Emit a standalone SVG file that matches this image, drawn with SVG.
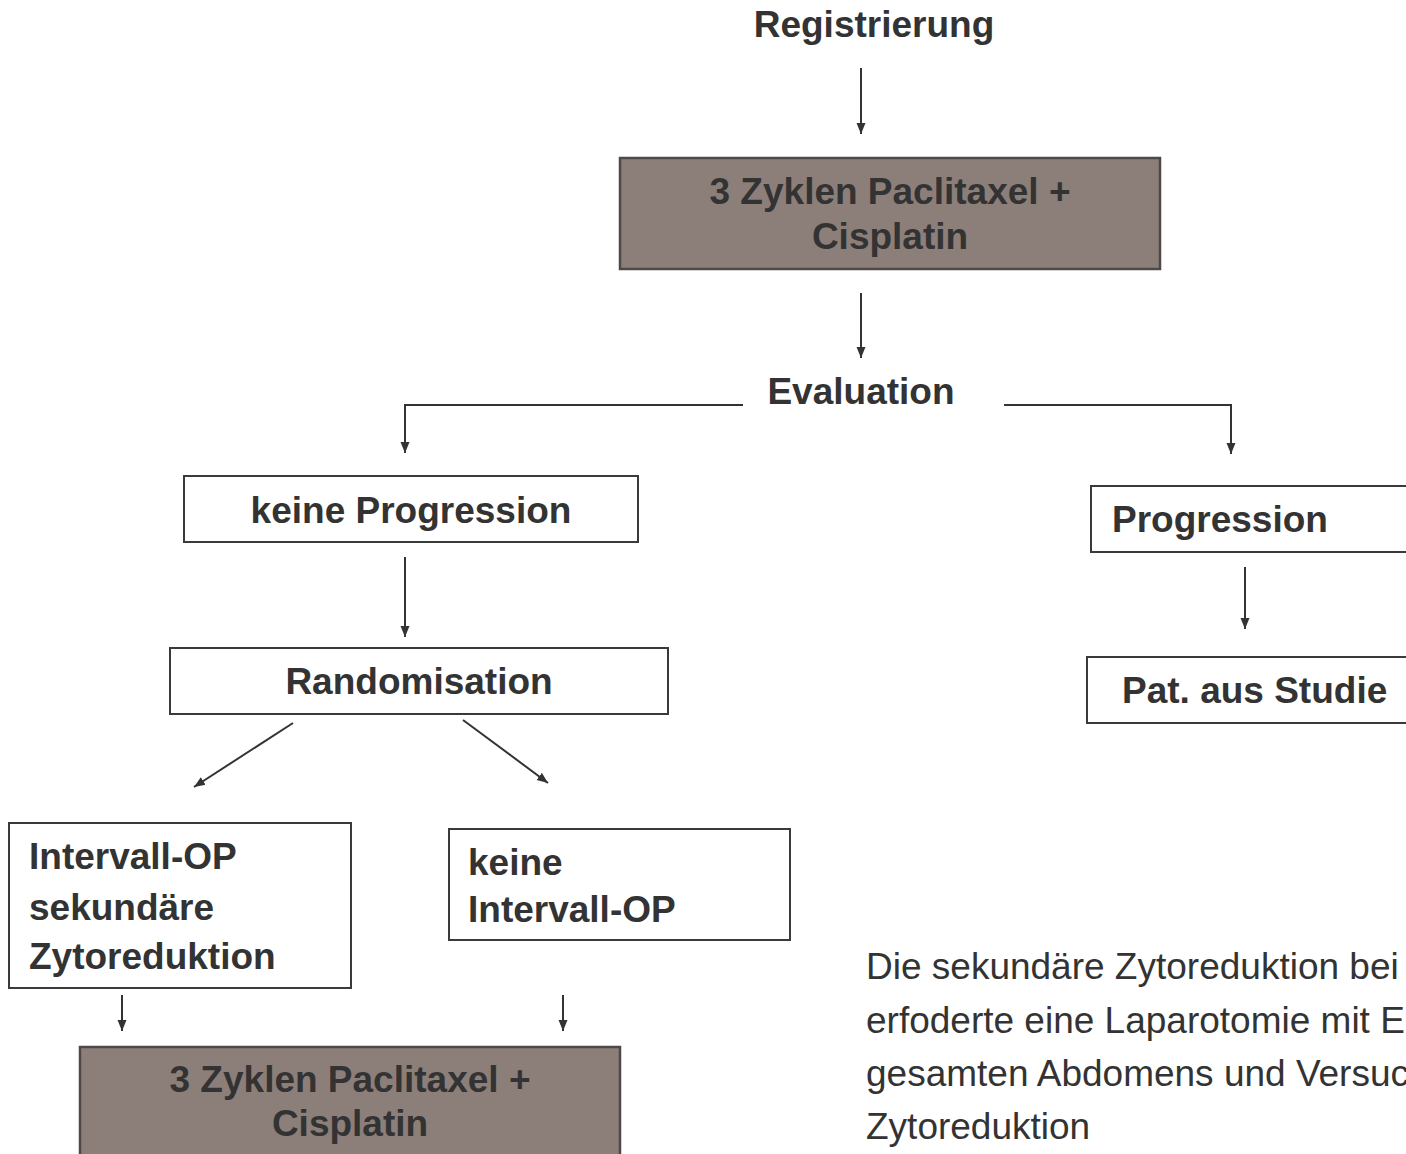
<svg xmlns="http://www.w3.org/2000/svg" width="1406" height="1154" viewBox="0 0 1406 1154">
<defs>
<marker id="ah" markerUnits="userSpaceOnUse" markerWidth="12" markerHeight="12" viewBox="0 0 12 12" refX="11" refY="6" orient="auto">
<path d="M0,1.5 L11,6 L0,10.5 Z" fill="#333"/>
</marker>
<style>
text{font-family:"Liberation Sans",Arial,sans-serif;fill:#333;font-size:37px}
.b{font-weight:bold}
.c{text-anchor:middle}
.box{fill:#fff;stroke:#3a3a3a;stroke-width:2}
.brown{fill:#8c7f7a;stroke:#4f4848;stroke-width:2.5}
.conn line,.conn path{stroke:#333;stroke-width:2;fill:none;marker-end:url(#ah)}
</style>
</defs>
<rect width="1406" height="1154" fill="#fff"/>
<g id="registrierung"><text class="b c" x="874" y="37">Registrierung</text></g>
<g id="chemo1"><rect class="brown" x="620" y="158" width="540" height="111"/>
<text class="b c" x="890" y="204">3 Zyklen Paclitaxel +</text><text class="b c" x="890" y="249">Cisplatin</text></g>
<g id="evaluation"><text class="b c" x="861" y="404">Evaluation</text></g>
<g id="keineProgression"><rect class="box" x="184" y="476" width="454" height="66"/><text class="b c" x="411" y="523">keine Progression</text></g>
<g id="progression"><rect class="box" x="1091" y="486" width="330" height="66"/><text class="b" x="1112" y="532">Progression</text></g>
<g id="randomisation"><rect class="box" x="170" y="648" width="498" height="66"/><text class="b c" x="419" y="694">Randomisation</text></g>
<g id="patAus"><rect class="box" x="1087" y="657" width="330" height="66"/><text class="b" x="1122" y="703">Pat. aus Studie</text></g>
<g id="intervallOP"><rect class="box" x="9" y="823" width="342" height="165"/>
<text class="b" x="29" y="869">Intervall-OP</text><text class="b" x="29" y="920">sekundäre</text><text class="b" x="29" y="969">Zytoreduktion</text></g>
<g id="keineIntervallOP"><rect class="box" x="449" y="829" width="341" height="111"/>
<text class="b" x="468" y="875">keine</text><text class="b" x="468" y="922">Intervall-OP</text></g>
<g id="chemo2"><rect class="brown" x="80" y="1047" width="540" height="120"/>
<text class="b c" x="350" y="1092">3 Zyklen Paclitaxel +</text><text class="b c" x="350" y="1136">Cisplatin</text></g>
<g id="note">
<text x="866" y="979">Die sekundäre Zytoreduktion bei</text>
<text x="866" y="1033">erfoderte eine Laparotomie mit E</text>
<text x="866" y="1086">gesamten Abdomens und Versuc</text>
<text x="866" y="1139">Zytoreduktion</text>
</g>
<g class="conn" id="connectors">
<line x1="861" y1="68" x2="861" y2="134"/>
<line x1="861" y1="293" x2="861" y2="358"/>
<path d="M743,405 H405 V453"/>
<path d="M1004,405 H1231 V454"/>
<line x1="405" y1="557" x2="405" y2="637"/>
<line x1="1245" y1="567" x2="1245" y2="629"/>
<line x1="293" y1="723" x2="194" y2="787"/>
<line x1="463" y1="720" x2="548" y2="783"/>
<line x1="122" y1="995" x2="122" y2="1031"/>
<line x1="563" y1="995" x2="563" y2="1031"/>
</g>
</svg>
